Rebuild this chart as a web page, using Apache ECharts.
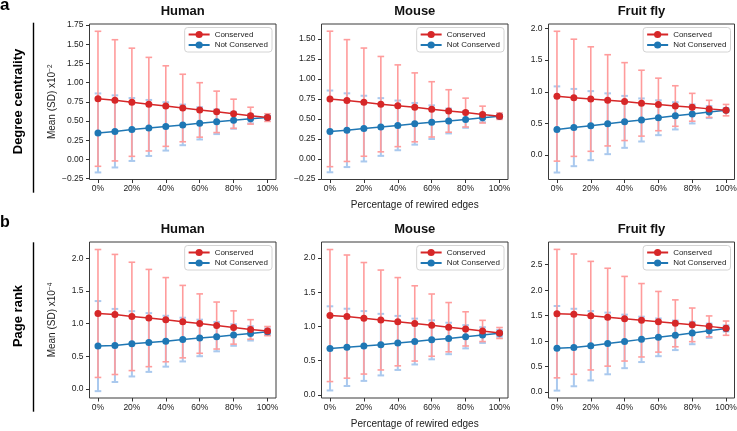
<!DOCTYPE html>
<html><head><meta charset="utf-8">
<script src="https://cdn.jsdelivr.net/npm/echarts@6/dist/echarts.min.js"></script>
<style>html,body{margin:0;padding:0;background:#fff}#c{width:737px;height:431px}</style>
</head><body><div id="c"></div>
<script>
// x categories: percentage of rewired edges
const pct = [0,10,20,30,40,50,60,70,80,90,100];
const xTicks = [0,20,40,60,80,100];

// Degree centrality, mean and SD (x10^-2)
const humanDegCons    = [0.79,0.77,0.745,0.72,0.695,0.67,0.645,0.62,0.595,0.57,0.545];
const humanDegConsSD  = [0.88,0.79,0.705,0.61,0.525,0.44,0.355,0.27,0.19,0.11,0.05];
const humanDegNot     = [0.345,0.365,0.39,0.41,0.43,0.45,0.47,0.49,0.51,0.53,0.545];
const humanDegNotSD   = [0.515,0.47,0.41,0.365,0.315,0.265,0.21,0.16,0.11,0.06,0.02];

const mouseDegCons    = [0.75,0.73,0.71,0.685,0.665,0.645,0.62,0.60,0.58,0.555,0.535];
const mouseDegConsSD  = [0.845,0.76,0.675,0.595,0.51,0.43,0.345,0.265,0.18,0.105,0.04];
const mouseDegNot     = [0.345,0.36,0.38,0.40,0.42,0.44,0.46,0.475,0.495,0.515,0.535];
const mouseDegNotSD   = [0.51,0.46,0.41,0.36,0.31,0.26,0.21,0.155,0.105,0.055,0.02];

const flyDegCons      = [0.93,0.905,0.885,0.865,0.845,0.82,0.80,0.775,0.755,0.73,0.71];
const flyDegConsSD    = [1.025,0.925,0.825,0.72,0.615,0.52,0.415,0.32,0.22,0.135,0.09];
const flyDegNot       = [0.405,0.435,0.465,0.495,0.525,0.555,0.59,0.62,0.65,0.68,0.71];
const flyDegNotSD     = [0.68,0.61,0.545,0.48,0.41,0.34,0.275,0.215,0.15,0.095,0.03];

// Page rank, mean and SD (x10^-4)
const humanPrCons     = [1.155,1.14,1.11,1.085,1.06,1.03,1.0,0.97,0.94,0.91,0.885];
const humanPrConsSD   = [0.98,0.92,0.83,0.745,0.645,0.555,0.455,0.36,0.255,0.15,0.07];
const humanPrNot      = [0.655,0.665,0.69,0.71,0.73,0.755,0.78,0.80,0.825,0.85,0.875];
const humanPrNotSD    = [0.69,0.56,0.5,0.45,0.39,0.335,0.28,0.225,0.165,0.11,0.05];

const mousePrCons     = [1.16,1.145,1.12,1.095,1.07,1.045,1.02,0.99,0.965,0.935,0.905];
const mousePrConsSD   = [0.965,0.9,0.815,0.73,0.645,0.55,0.455,0.36,0.25,0.155,0.08];
const mousePrNot      = [0.68,0.695,0.715,0.735,0.76,0.78,0.805,0.825,0.85,0.875,0.90];
const mousePrNotSD    = [0.615,0.565,0.51,0.45,0.395,0.335,0.285,0.23,0.17,0.115,0.05];

const flyPrCons       = [1.54,1.53,1.50,1.47,1.44,1.41,1.38,1.35,1.32,1.29,1.255];
const flyPrConsSD     = [1.26,1.18,1.065,0.96,0.83,0.72,0.595,0.46,0.33,0.205,0.14];
const flyPrNot        = [0.86,0.875,0.91,0.955,0.995,1.035,1.075,1.115,1.16,1.205,1.25];
const flyPrNotSD      = [0.83,0.76,0.68,0.605,0.525,0.445,0.37,0.29,0.22,0.14,0.06];

// y tick labels
const ticksHumanDeg = [-0.25,0,0.25,0.5,0.75,1.0,1.25,1.5,1.75];
const ticksMouseDeg = [-0.25,0,0.25,0.5,0.75,1.0,1.25,1.5];
const ticksFlyDeg   = [0,0.5,1.0,1.5,2.0];
const ticksHumanPr  = [0,0.5,1.0,1.5,2.0];
const ticksMousePr  = [0,0.5,1.0,1.5,2.0];
const ticksFlyPr    = [0,0.5,1.0,1.5,2.0,2.5];

const speciesTitles = ['Human','Mouse','Fruit fly'];
const rowTitles = ['Degree centrality','Page rank'];
const yNames = [['Mean (SD) x10','-2'],['Mean (SD) x10','-4']];
const xName = 'Percentage of rewired edges';

const panels = [
  {row:0,col:0,c:humanDegCons,cs:humanDegConsSD,n:humanDegNot,ns:humanDegNotSD,min:-0.262,max:1.765,ticks:ticksHumanDeg,dec:2},
  {row:0,col:1,c:mouseDegCons,cs:mouseDegConsSD,n:mouseDegNot,ns:mouseDegNotSD,min:-0.255,max:1.685,ticks:ticksMouseDeg,dec:2},
  {row:0,col:2,c:flyDegCons,cs:flyDegConsSD,n:flyDegNot,ns:flyDegNotSD,min:-0.385,max:2.07,ticks:ticksFlyDeg,dec:1},
  {row:1,col:0,c:humanPrCons,cs:humanPrConsSD,n:humanPrNot,ns:humanPrNotSD,min:-0.14,max:2.25,ticks:ticksHumanPr,dec:1},
  {row:1,col:1,c:mousePrCons,cs:mousePrConsSD,n:mousePrNot,ns:mousePrNotSD,min:-0.045,max:2.235,ticks:ticksMousePr,dec:1},
  {row:1,col:2,c:flyPrCons,cs:flyPrConsSD,n:flyPrNot,ns:flyPrNotSD,min:-0.115,max:2.945,ticks:ticksFlyPr,dec:1}
];

const FONT = '"Liberation Sans", Arial, Helvetica, sans-serif';
const W = 737;
const cols = [{left:89.5,width:186.5},{left:321.5,width:186.5},{left:548.5,width:186}];
const rows = [{top:24,height:155.5},{top:242,height:156}];
const RED = '#d62728', BLUE = '#1f77b4', RED_ERR = '#ff9c9c', BLUE_ERR = '#aac9ee';

function errRender(color, width){
  return function(params, api){
    const x = api.value(0), lo = api.value(1), hi = api.value(2);
    const p1 = api.coord([x, hi]), p2 = api.coord([x, lo]);
    const hw = 3.3;
    const st = {stroke: color, lineWidth: width};
    return {type:'group', children:[
      {type:'line', shape:{x1:p1[0],y1:p1[1],x2:p2[0],y2:p2[1]}, style:st},
      {type:'line', shape:{x1:p1[0]-hw,y1:p1[1],x2:p1[0]+hw,y2:p1[1]}, style:st},
      {type:'line', shape:{x1:p2[0]-hw,y1:p2[1],x2:p2[0]+hw,y2:p2[1]}, style:st}
    ]};
  };
}

const grid = [], xAxis = [], yAxis = [], series = [], legend = [], title = [];
panels.forEach((p, i) => {
  const col = cols[p.col], row = rows[p.row];
  grid.push({left:col.left, top:row.top, width:col.width, height:row.height, show:true,
    borderColor:'#3a3a3a', borderWidth:1, backgroundColor:'transparent', containLabel:false, outerBoundsMode:'none'});
  xAxis.push({type:'value', gridIndex:i, min:-5, max:105, position:'bottom',
    axisLine:{show:false, onZero:false}, splitLine:{show:false},
    axisTick:{show:true, length:3.5, lineStyle:{color:'#333'}, customValues:xTicks},
    axisLabel:{customValues:xTicks, formatter:v => v + '%', fontSize:8.5, color:'#222', fontFamily:FONT, margin:5},
    name: p.col === 1 ? xName : '', nameLocation:'middle', nameGap:21,
    nameTextStyle:{fontSize:10, color:'#222', fontFamily:FONT}});
  const yn = yNames[p.row];
  yAxis.push({type:'value', gridIndex:i, min:p.min, max:p.max, position:'left',
    axisLine:{show:false, onZero:false}, splitLine:{show:false},
    axisTick:{show:true, length:3.5, lineStyle:{color:'#333'}, customValues:p.ticks},
    axisLabel:{customValues:p.ticks, formatter:v => v.toFixed(p.dec).replace('-', '\u2212'), fontSize:8.5, color:'#222', fontFamily:FONT, margin:6},
    name: p.col === 0 ? (yn[0] + '{sup|' + yn[1].replace('-', '\u2212') + '}') : '',
    nameLocation:'middle', nameGap:32, nameRotate:90,
    nameTextStyle:{fontSize:10, color:'#222', fontFamily:FONT,
      rich:{sup:{fontSize:6.5, color:'#222', fontFamily:FONT, verticalAlign:'top', padding:[0,0,4,0]}}}});
  const errN = pct.map((x, k) => [x, p.n[k] - p.ns[k], p.n[k] + p.ns[k]]);
  const errC = pct.map((x, k) => [x, p.c[k] - p.cs[k], p.c[k] + p.cs[k]]);
  series.push({type:'custom', name:'Not Conserved SD', xAxisIndex:i, yAxisIndex:i, z:1,
    renderItem: errRender(BLUE_ERR, 2), data: errN, encode:{x:0, y:[1,2]}, silent:true});
  series.push({type:'custom', name:'Conserved SD', xAxisIndex:i, yAxisIndex:i, z:2,
    renderItem: errRender(RED_ERR, 1.6), data: errC, encode:{x:0, y:[1,2]}, silent:true});
  series.push({type:'line', name:'Not Conserved', xAxisIndex:i, yAxisIndex:i, z:3,
    data: pct.map((x, k) => [x, p.n[k]]), symbol:'circle', symbolSize:7, showSymbol:true,
    lineStyle:{color:BLUE, width:1.5}, itemStyle:{color:BLUE}, emphasis:{disabled:true}});
  series.push({type:'line', name:'Conserved', xAxisIndex:i, yAxisIndex:i, z:4,
    data: pct.map((x, k) => [x, p.c[k]]), symbol:'circle', symbolSize:7, showSymbol:true,
    lineStyle:{color:RED, width:1.5}, itemStyle:{color:RED}, emphasis:{disabled:true}});
  legend.push({data:['Conserved','Not Conserved'], orient:'vertical',
    right: W - (col.left + col.width) + 4, top: row.top + 3.5,
    itemWidth:21, itemHeight:9, itemGap:2.5, padding:[3,4,3,3],
    backgroundColor:'#fff', borderColor:'#d4d4d4', borderWidth:1, borderRadius:3,
    textStyle:{fontSize:8, color:'#222', fontFamily:FONT}, selectedMode:false});
  title.push({text: speciesTitles[p.col], left: col.left + col.width / 2, textAlign:'center',
    top: p.row === 0 ? 4.5 : 222.5, padding:0,
    textStyle:{fontSize:13, fontWeight:'bold', color:'#111', fontFamily:FONT}});
});

const graphic = [
  {type:'text', x:0, y:5.5, style:{text:'a', x:0, y:0, font:'bold 17px ' + FONT, fill:'#000', textAlign:'left', textVerticalAlign:'middle', align:'left', verticalAlign:'middle'}},
  {type:'text', x:0, y:222.5, style:{text:'b', x:0, y:0, font:'bold 16px ' + FONT, fill:'#000', textAlign:'left', textVerticalAlign:'middle', align:'left', verticalAlign:'middle'}},
  {type:'text', x:18, y:101.5, rotation:Math.PI/2, style:{text:rowTitles[0], x:0, y:0, font:'bold 13px ' + FONT, fill:'#000', textAlign:'center', textVerticalAlign:'middle', align:'center', verticalAlign:'middle'}},
  {type:'text', x:18, y:316, rotation:Math.PI/2, style:{text:rowTitles[1], x:0, y:0, font:'bold 13px ' + FONT, fill:'#000', textAlign:'center', textVerticalAlign:'middle', align:'center', verticalAlign:'middle'}},
  {type:'line', shape:{x1:33.5, y1:22.7, x2:33.5, y2:192.7}, style:{stroke:'#000', lineWidth:1.4}},
  {type:'line', shape:{x1:33.5, y1:242.3, x2:33.5, y2:411.7}, style:{stroke:'#000', lineWidth:1.4}}
];

const chart = echarts.init(document.getElementById('c'), null, {renderer:'canvas'});
chart.setOption({animation:false, backgroundColor:'#fff', textStyle:{fontFamily:FONT},
  grid, xAxis, yAxis, series, legend, title, graphic});
</script>
</body></html>
